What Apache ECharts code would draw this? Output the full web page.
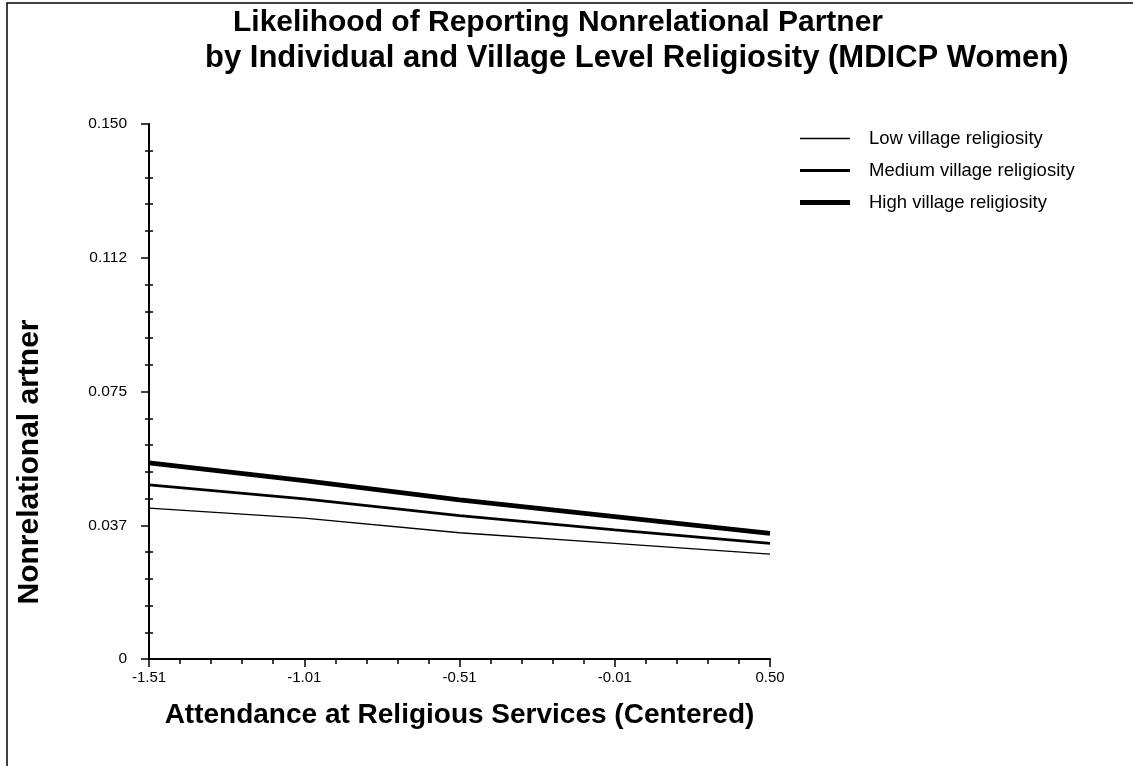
<!DOCTYPE html>
<html>
<head>
<meta charset="utf-8">
<script src="https://cdn.jsdelivr.net/npm/echarts@6/dist/echarts.min.js"></script>
<style>
  html, body { margin: 0; padding: 0; background: #ffffff; }
  #chart { width: 1133px; height: 766px; }
</style>
</head>
<body>
<div id="chart"></div>
<script>
// Attendance at religious services (centered) at which predictions are plotted
const attendance = [-1.51, -1.01, -0.51, -0.01, 0.49];

// Predicted probability of reporting a nonrelational partner
const lowVillage = [0.0423, 0.0395, 0.0354, 0.0324, 0.0294];
const mediumVillage = [0.0488, 0.0449, 0.0402, 0.0362, 0.0324];
const highVillage = [0.0550, 0.0500, 0.0446, 0.0399, 0.0352];

const seriesNames = ['Low village religiosity', 'Medium village religiosity', 'High village religiosity'];
const lineWidths = [1.3, 2.8, 4.8];

// Tick labels
const xTickLabels = ['-1.51', '-1.01', '-0.51', '-0.01', '0.50'];
const yTickLabels = ['0', '0.037', '0.075', '0.112', '0.150'];

const FONT = '"Liberation Sans", Arial, Helvetica, sans-serif';
const chart = echarts.init(document.getElementById('chart'), null, { renderer: 'canvas' });

function pairs(ys) {
  return attendance.map((x, i) => [x, ys[i]]);
}

const lineSeries = (name, ys, width) => ({
  name: name,
  type: 'line',
  xAxisIndex: 0,
  yAxisIndex: 0,
  data: pairs(ys),
  symbol: 'none',
  smooth: false,
  lineStyle: { color: '#000', width: width },
  itemStyle: { color: '#000' },
  emphasis: { disabled: true },
  z: 5
});

// legend key: a plain bar as thick as the series line
const legendKey = w => 'path://M0,0H50V' + w + 'H0Z';

chart.setOption({
  backgroundColor: '#ffffff',
  animation: false,
  title: [
    {
      text: 'Likelihood of Reporting Nonrelational Partner',
      left: 228, top: 3,
      textStyle: { fontFamily: FONT, fontWeight: 'bold', fontSize: 30, color: '#000' }
    },
    {
      text: 'by Individual and Village Level Religiosity (MDICP Women)',
      left: 200, top: 38,
      textStyle: { fontFamily: FONT, fontWeight: 'bold', fontSize: 31, color: '#000' }
    }
  ],
  legend: {
    orient: 'vertical',
    left: 800, top: 129,
    padding: 0,
    itemWidth: 50, itemHeight: 14,
    itemGap: 13,
    selectedMode: false,
    symbolKeepAspect: true,
    itemStyle: { color: '#000' },
    data: seriesNames.map((n, i) => ({ name: n, icon: legendKey(lineWidths[i]) })),
    textStyle: { fontFamily: FONT, fontSize: 18.5, color: '#000', padding: [0, 0, 0, 14] }
  },
  grid: { left: 149, right: 363, top: 124, bottom: 107, containLabel: false },
  xAxis: [
    {
      // data axis: real attendance values
      type: 'value',
      min: -1.51, max: 0.49,
      show: false
    },
    {
      // tick axis: offsets from the lowest attendance value
      type: 'value',
      position: 'bottom',
      min: 0, max: 2, interval: 0.5,
      axisLine: { show: true, onZero: false, lineStyle: { color: '#000', width: 2 } },
      axisTick: { show: true, length: 8, lineStyle: { color: '#000', width: 1.5 } },
      minorTick: { show: true, splitNumber: 5, length: 5, lineStyle: { color: '#000', width: 1.5 } },
      splitLine: { show: false },
      axisLabel: {
        margin: 11,
        fontFamily: FONT, fontSize: 15, color: '#000',
        formatter: v => xTickLabels[Math.round(v / 0.5)]
      },
      name: 'Attendance at Religious Services (Centered)',
      nameLocation: 'middle',
      nameGap: 42,
      nameTextStyle: { fontFamily: FONT, fontWeight: 'bold', fontSize: 28, color: '#000' }
    }
  ],
  yAxis: [
    {
      type: 'value',
      position: 'left',
      min: 0, max: 0.15, interval: 0.0375,
      axisLine: { show: true, onZero: false, lineStyle: { color: '#000', width: 2 } },
      axisTick: { show: true, length: 8, lineStyle: { color: '#000', width: 1.5 } },
      minorTick: { show: true, splitNumber: 5, length: 4, lineStyle: { color: '#000', width: 1.5 } },
      splitLine: { show: false },
      axisLabel: {
        margin: 22,
        fontFamily: FONT, fontSize: 15.5, color: '#000',
        formatter: v => yTickLabels[Math.round(v / 0.0375)]
      }
    },
    {
      // inner half of the minor ticks, so they cross the axis line
      type: 'value',
      position: 'left',
      min: 0, max: 0.15, interval: 0.0375,
      axisLine: { show: false, onZero: false },
      axisTick: { show: false, inside: true },
      minorTick: { show: true, splitNumber: 5, length: 4, lineStyle: { color: '#000', width: 1.5 } },
      splitLine: { show: false },
      axisLabel: { show: false }
    }
  ],
  series: seriesNames.map((n, i) =>
    lineSeries(n, [lowVillage, mediumVillage, highVillage][i], lineWidths[i])
  ),
  graphic: [
    {
      type: 'polyline',
      shape: { points: [[7, 766], [7, 3], [1133, 3]] },
      style: { stroke: '#000', lineWidth: 1.5, fill: null },
      silent: true
    },
    {
      type: 'text',
      x: 30, y: 462,
      rotation: Math.PI / 2,
      style: {
        text: 'Nonrelational artner',
        fontFamily: FONT, fontWeight: 'bold', fontSize: 30, fill: '#000',
        align: 'center', verticalAlign: 'middle'
      },
      silent: true
    }
  ]
});
</script>
</body>
</html>
